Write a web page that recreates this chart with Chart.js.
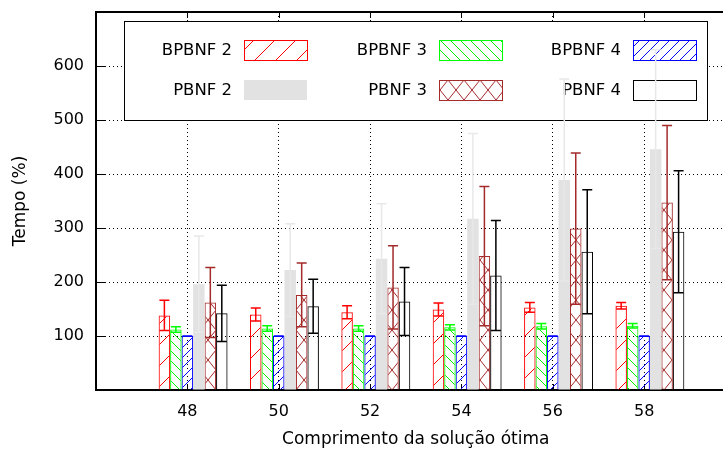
<!DOCTYPE html>
<html>
<head>
<meta charset="utf-8">
<script src="https://cdn.jsdelivr.net/npm/chart.js@4.4.0/dist/chart.umd.min.js"></script>
<style>
  html, body { margin: 0; padding: 0; background: #fff; overflow: hidden; }
  #wrap { width: 740px; height: 450px; }
</style>
</head>
<body>
<div id="wrap"><canvas id="grafico"></canvas></div>
<script>
// comprimento da solução ótima (eixo x)
var comprimentos = [48, 50, 52, 54, 56, 58];
var ticksY = [100, 200, 300, 400, 500, 600];

// tempo relativo (%) e desvio de cada algoritmo
var bpbnf2 = [138, 140, 144, 149, 153, 156];
var bpbnf2Err = [28, 12, 12, 12, 9, 6];
var bpbnf3 = [112, 114, 114, 116, 118, 119];
var bpbnf3Err = [5, 5, 5, 5, 5, 4];
var bpbnf4 = [100, 100, 100, 100, 100, 100];
var bpbnf4Err = [0, 0, 0, 0, 0, 0];
var pbnf2 = [196, 222, 243, 317, 389, 446];
var pbnf2Err = [89, 86, 102, 158, 187, 184];
var pbnf3 = [162, 176, 190, 248, 299, 347];
var pbnf3Err = [65, 59, 77, 129, 140, 143];
var pbnf4 = [142, 155, 164, 212, 256, 293];
var pbnf4Err = [52, 50, 63, 102, 115, 113];

Chart.defaults.font.family = "'DejaVu Sans', sans-serif";
Chart.defaults.font.size = 16;
Chart.defaults.color = '#000';

// preenchimento hachurado (estilo gnuplot)
function hachura(cor, larg, alt, tipo) {
    var c = document.createElement('canvas');
    c.width = larg; c.height = alt;
    var g = c.getContext('2d');
    g.strokeStyle = cor;
    g.lineWidth = 1;
    g.beginPath();
    [-larg, 0, larg].forEach(function (k) {
        if (tipo.indexOf('/') >= 0) { g.moveTo(k, alt); g.lineTo(k + larg, 0); }
        if (tipo.indexOf('\\') >= 0) { g.moveTo(k, 0); g.lineTo(k + larg, alt); }
    });
    g.stroke();
    return g.createPattern(c, 'repeat');
}

function pontos(valores) {
    return valores.map(function (v, i) { return { x: comprimentos[i], y: v }; });
}

var datasets = [
    { label: '', data: [] }, // espaço vazio antes de cada grupo
    { label: 'BPBNF 2', data: pontos(bpbnf2), err: bpbnf2Err, backgroundColor: hachura('#ff0000', 21, 21, '/'), borderColor: '#ff0000', borderWidth: 1 },
    { label: 'BPBNF 3', data: pontos(bpbnf3), err: bpbnf3Err, backgroundColor: hachura('#00ee00', 10, 10, '\\'), borderColor: '#00ff00', borderWidth: 1 },
    { label: 'BPBNF 4', data: pontos(bpbnf4), err: bpbnf4Err, backgroundColor: hachura('#0000ff', 10, 10, '/'), borderColor: '#0000ff', borderWidth: 1 },
    { label: 'PBNF 2', data: pontos(pbnf2), err: pbnf2Err, backgroundColor: '#e2e2e2', borderColor: '#e2e2e2', borderWidth: 0, errColor: '#e8e8e8' },
    { label: 'PBNF 3', data: pontos(pbnf3), err: pbnf3Err, backgroundColor: hachura('#a52a2a', 16, 20, '/\\'), borderColor: '#a52a2a', borderWidth: 1 },
    { label: 'PBNF 4', data: pontos(pbnf4), err: pbnf4Err, backgroundColor: 'rgba(255,255,255,0)', borderColor: '#000000', borderWidth: 1 }
];

// pequenos traços para dentro nos eixos
var ticksDentro = {
    id: 'ticksDentro',
    beforeDatasetsDraw: function (chart) {
        var ctx = chart.ctx, a = chart.chartArea;
        ctx.save();
        ctx.strokeStyle = '#000';
        ctx.lineWidth = 1;
        ctx.beginPath();
        chart.scales.y.ticks.forEach(function (t) {
            if (ticksY.indexOf(t.value) < 0) return;
            var py = Math.round(chart.scales.y.getPixelForValue(t.value)) + 0.5;
            ctx.moveTo(a.left, py); ctx.lineTo(a.left + 9, py);
        });
        comprimentos.forEach(function (v) {
            var px = Math.round(chart.scales.x.getPixelForValue(v)) + 0.5;
            ctx.moveTo(px, a.top); ctx.lineTo(px, a.top + 6);
            ctx.moveTo(px, a.bottom); ctx.lineTo(px, a.bottom - 6);
        });
        ctx.stroke();
        ctx.restore();
    }
};

// legenda em caixa, texto à esquerda da amostra
var caixaLegenda = {
    id: 'caixaLegenda',
    beforeDatasetsDraw: function (chart, args, o) {
        var ctx = chart.ctx;
        var itens = chart.data.datasets.filter(function (d) { return d.label; });
        ctx.save();
        ctx.fillStyle = '#fff';
        ctx.fillRect(o.left, o.top, o.width, o.height);
        ctx.strokeStyle = '#000';
        ctx.lineWidth = 1;
        ctx.strokeRect(o.left + 0.5, o.top + 0.5, o.width, o.height);
        var colW = o.width / 3;
        ctx.font = "16.5px 'DejaVu Sans'";
        ctx.textAlign = 'right';
        ctx.textBaseline = 'middle';
        itens.forEach(function (d, k) {
            var col = k % 3, lin = Math.floor(k / 3);
            var sx = Math.round(o.left + colW * (col + 1) - 11 - 63);
            var sy = o.top + 19 + lin * 40;
            ctx.fillStyle = d.backgroundColor;
            ctx.fillRect(sx, sy, 63, 20);
            if (d.borderWidth) {
                ctx.strokeStyle = d.borderColor;
                ctx.strokeRect(sx + 0.5, sy + 0.5, 63, 20);
            }
            ctx.fillStyle = '#000';
            ctx.fillText(d.label, sx - 12, sy + 11);
        });
        ctx.restore();
    }
};

// barras de erro
var barrasErro = {
    id: 'barrasErro',
    afterDatasetsDraw: function (chart) {
        var ctx = chart.ctx, y = chart.scales.y;
        chart.data.datasets.forEach(function (d, i) {
            if (!d.err) return;
            var meta = chart.getDatasetMeta(i);
            ctx.save();
            ctx.strokeStyle = d.errColor || d.borderColor;
            ctx.lineWidth = 1.5;
            meta.data.forEach(function (bar, j) {
                var v = d.data[j].y, e = d.err[j];
                var topo = y.getPixelForValue(v + e), base = y.getPixelForValue(v - e);
                ctx.beginPath();
                ctx.moveTo(bar.x, topo); ctx.lineTo(bar.x, base);
                ctx.moveTo(bar.x - 5, topo); ctx.lineTo(bar.x + 5, topo);
                ctx.moveTo(bar.x - 5, base); ctx.lineTo(bar.x + 5, base);
                ctx.stroke();
            });
            ctx.restore();
        });
    }
};

var grafico = new Chart(document.getElementById('grafico').getContext('2d'), {
    type: 'bar',
    data: { datasets: datasets },
    plugins: [ticksDentro, caixaLegenda, barrasErro],
    options: {
        responsive: true,
        maintainAspectRatio: false,
        animation: false,
        events: [],
        layout: { padding: { top: 2, right: 4.5, left: 0, bottom: 0 } },
        datasets: { bar: { categoryPercentage: 0.88, barPercentage: 1 } },
        plugins: {
            legend: { display: false },
            tooltip: { enabled: false },
            caixaLegenda: { left: 124, top: 21, width: 583, height: 99 }
        },
        scales: {
            x: {
                type: 'linear',
                min: 46,
                max: 60,
                offset: false,
                grid: { offset: false, color: '#000', lineWidth: 1, drawTicks: true, tickLength: 12, tickColor: 'rgba(0,0,0,0)' },
                border: { display: true, color: '#000', width: 2, dash: [1, 3] },
                ticks: {
                    stepSize: 2,
                    padding: 0,
                    autoSkip: false,
                    maxRotation: 0,
                    callback: function (v) { return comprimentos.indexOf(v) >= 0 ? String(v) : ''; }
                },
                title: { display: true, text: 'Comprimento da solução ótima', font: { size: 17 }, padding: { top: 8, bottom: 0 } },
                afterFit: function (s) { s.height = 60; }
            },
            xTopo: {
                type: 'linear',
                position: 'top',
                min: 46,
                max: 60,
                grid: { display: false },
                ticks: { display: false },
                border: { display: true, color: '#000', width: 2 },
                afterFit: function (s) { s.height = 10; }
            },
            y: {
                min: 0,
                max: 700,
                grid: { color: '#000', lineWidth: 1, drawTicks: true, tickLength: 12, tickColor: 'rgba(0,0,0,0)' },
                border: { display: true, color: '#000', width: 2, dash: [1, 3] },
                ticks: {
                    stepSize: 100,
                    padding: 0,
                    callback: function (v) { return ticksY.indexOf(v) >= 0 ? String(v) : ''; }
                },
                title: { display: true, text: 'Tempo (%)', font: { size: 17 }, padding: { top: 10, bottom: 0 } },
                afterFit: function (s) { s.width = 96; }
            }
        }
    }
});
</script>
</body>
</html>
